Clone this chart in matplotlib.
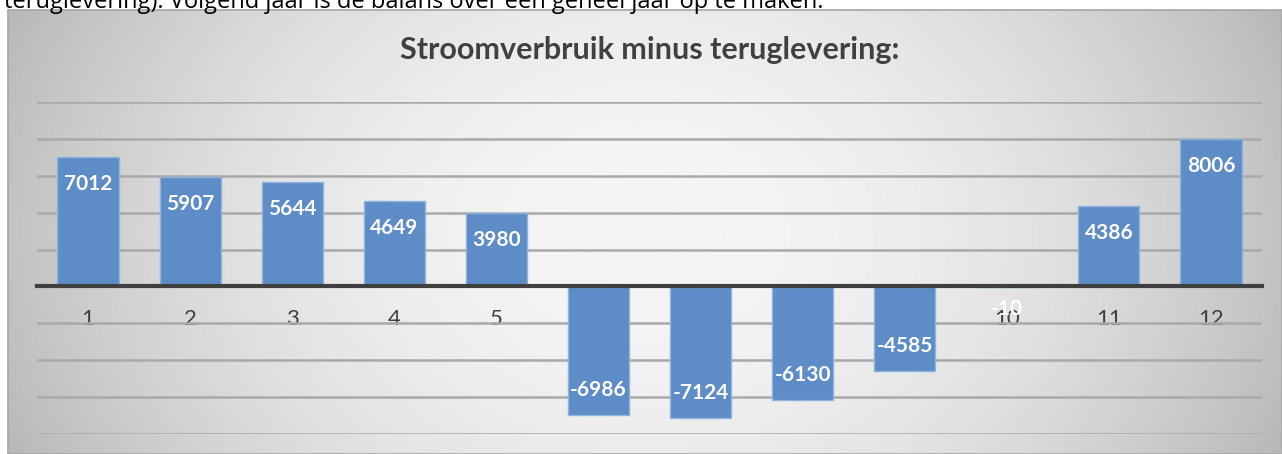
import numpy as np
import matplotlib.pyplot as plt

# maanden en saldo (verbruik - teruglevering)
maanden = ['1', '2', '3', '4', '5', '6', '7', '8', '9', '10', '11', '12']
saldo = [7012, 5907, 5644, 4649, 3980, -6986, -7124, -6130, -4585, -10, 4386, 8006]

titel = "Stroomverbruik minus teruglevering:"
bovenregel = "teruglevering). Volgend jaar is de balans over een geheel jaar op te maken."

plt.rcParams['font.family'] = ['Lato', 'DejaVu Sans']

fig = plt.figure(figsize=(12.82, 4.54), dpi=100)
fig.patch.set_facecolor('white')

# achtergrond van de grafiek: radiaal verloop
bg = fig.add_axes([8 / 1282, 0, 1 - 8 / 1282, 1 - 10 / 454])
xx, yy = np.meshgrid(np.linspace(-1, 1, 400), np.linspace(-1, 1, 150))
r = np.sqrt(xx ** 2 + (yy * 0.45) ** 2)
grad = 0.96 - 0.2 * np.clip(r, 0, 1.2) ** 2
bg.imshow(grad, cmap='gray', vmin=0, vmax=1, aspect='auto', extent=[0, 1, 0, 1])
bg.set_xlim(0, 1)
bg.set_ylim(0, 1)
bg.set_xticks([])
bg.set_yticks([])
for s in bg.spines.values():
    s.set_color('#a6a6a6')
    s.set_linewidth(1.2)

# afgesneden tekstregel boven de grafiek
fig.text(0.003, 1 - 8 / 454, bovenregel, fontsize=17, color='black', va='baseline', ha='left',
         family=['Open Sans', 'DejaVu Sans'], zorder=0)

ax = fig.add_axes([37 / 1282, 1 - 434 / 454, (1262 - 37) / 1282, (434 - 102) / 454])
ax.patch.set_alpha(0)

x = np.arange(1, len(maanden) + 1)
ax.bar(x, saldo, width=0.6, color='#5e8cc6', edgecolor='#8fb3df', linewidth=1, zorder=2)

ax.set_xlim(0.5, 12.5)
ax.set_ylim(-8000, 10000)
ax.set_yticks(np.arange(-8000, 10001, 2000))
ax.yaxis.grid(True, color='#a9a9a9', linewidth=1.8, zorder=0)
ax.set_axisbelow(True)
ax.tick_params(axis='y', left=False, labelleft=False)

ax.spines['bottom'].set_position(('data', 0))
ax.spines['bottom'].set_color('#3f3f3f')
ax.spines['bottom'].set_linewidth(3)
ax.spines['bottom'].set_zorder(3)
for s in ['top', 'left', 'right']:
    ax.spines[s].set_visible(False)

ax.set_xticks(x)
ax.set_xticklabels(maanden, fontsize=16, color='#404040')
ax.tick_params(axis='x', length=0, pad=16)

# waardelabels binnen het einde van de balk
for xi, v in zip(x, saldo):
    if v > 0:
        dy = -27
    elif v < -1000:
        dy = 25
    else:
        dy = -22
    ax.annotate(str(v), (xi, v), xytext=(0, dy), textcoords='offset pixels',
                ha='center', va='center', color='white', fontsize=15, fontweight='bold', zorder=2.6)

fig.text(0.507, 1 - 50 / 454, titel, fontsize=22, fontweight='bold', color='#404040',
         ha='center', va='center')

fig.savefig('out.png', dpi=100)
